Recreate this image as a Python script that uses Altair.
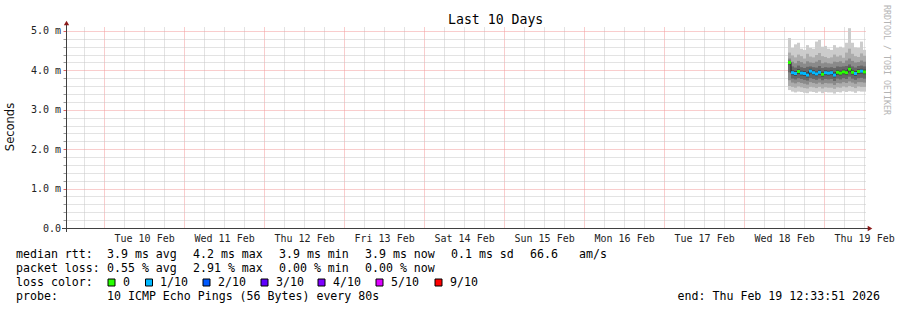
import altair as alt
import pandas as pd

# ---------------- data ----------------
title_text = "Last 10 Days"
y_title = "Seconds"
watermark = "RRDTOOL / TOBI OETIKER"
day_labels = ["Tue 10 Feb", "Wed 11 Feb", "Thu 12 Feb", "Fri 13 Feb", "Sat 14 Feb",
              "Sun 15 Feb", "Mon 16 Feb", "Tue 17 Feb", "Wed 18 Feb", "Thu 19 Feb"]
# hours since Mon 9 Feb 00:00 ; graph ends Thu Feb 19 12:33:51
x_domain = [12.5642, 252.5642]
y_domain = [0, 5.1]

times = [229.16, 230.06, 230.96, 231.86, 232.76, 233.66, 234.56, 235.46, 236.36,
         237.26, 238.16, 239.06, 239.96, 240.86, 241.76, 242.66, 243.56, 244.46,
         245.36, 246.26, 247.16, 248.06, 248.96, 249.86, 250.76, 251.66]
step_h = 0.9

median = [4.20, 3.94, 3.92, 3.97, 3.93, 3.92, 3.88, 3.98, 3.94, 3.91, 3.95, 3.90, 3.94,
          3.93, 3.94, 3.88, 3.95, 3.93, 3.96, 3.94, 4.03, 3.95, 3.92, 3.97, 3.98, 3.96]
loss = ["0", "1/10", "1/10", "0", "1/10", "1/10", "1/10", "1/10", "1/10", "1/10", "1/10",
        "0", "1/10", "1/10", "1/10", "1/10", "0", "0", "0", "0", "0", "0", "1/10", "0",
        "1/10", "0"]

# sorted ping times (ms), p1 = fastest ... p10 = slowest
p10 = [4.82, 4.57, 4.66, 4.70, 4.55, 4.52, 4.64, 4.57, 4.55, 4.73, 4.77, 4.60, 4.62,
       4.55, 4.52, 4.64, 4.57, 4.60, 4.57, 4.70, 5.07, 4.70, 4.58, 4.57, 4.73, 4.52]
p9 = [4.45, 4.38, 4.33, 4.40, 4.36, 4.30, 4.42, 4.35, 4.33, 4.39, 4.44, 4.36, 4.34,
      4.31, 4.33, 4.40, 4.35, 4.38, 4.32, 4.45, 4.55, 4.42, 4.36, 4.34, 4.43, 4.37]
p8 = [4.30, 4.22, 4.18, 4.24, 4.21, 4.17, 4.23, 4.20, 4.19, 4.22, 4.26, 4.18, 4.20,
      4.18, 4.17, 4.22, 4.21, 4.23, 4.19, 4.25, 4.30, 4.24, 4.20, 4.21, 4.25, 4.22]
p7 = [4.25, 4.10, 4.07, 4.12, 4.08, 4.06, 4.09, 4.10, 4.08, 4.07, 4.11, 4.06, 4.08,
      4.07, 4.08, 4.06, 4.10, 4.09, 4.10, 4.11, 4.15, 4.10, 4.07, 4.11, 4.12, 4.10]
p6 = [4.23, 4.00, 3.98, 4.03, 3.99, 3.98, 3.95, 4.04, 4.00, 3.97, 4.01, 3.96, 4.00,
      3.99, 4.00, 3.95, 4.01, 3.99, 4.02, 4.00, 4.09, 4.01, 3.98, 4.03, 4.04, 4.02]
p5 = [4.15, 3.88, 3.86, 3.91, 3.87, 3.86, 3.82, 3.92, 3.88, 3.85, 3.89, 3.84, 3.88,
      3.87, 3.88, 3.82, 3.89, 3.87, 3.90, 3.88, 3.97, 3.89, 3.86, 3.91, 3.92, 3.90]
p4 = [3.95, 3.79, 3.77, 3.80, 3.78, 3.76, 3.74, 3.80, 3.78, 3.76, 3.79, 3.75, 3.78,
      3.77, 3.78, 3.73, 3.79, 3.77, 3.80, 3.78, 3.84, 3.79, 3.76, 3.80, 3.81, 3.79]
p3 = [3.75, 3.69, 3.67, 3.70, 3.68, 3.66, 3.64, 3.70, 3.68, 3.66, 3.69, 3.65, 3.68,
      3.67, 3.67, 3.63, 3.68, 3.67, 3.70, 3.68, 3.72, 3.69, 3.66, 3.70, 3.70, 3.69]
p2 = [3.60, 3.58, 3.56, 3.59, 3.57, 3.55, 3.54, 3.58, 3.57, 3.55, 3.58, 3.54, 3.57,
      3.56, 3.56, 3.53, 3.57, 3.56, 3.59, 3.57, 3.60, 3.58, 3.55, 3.59, 3.58, 3.58]
p1 = [3.50, 3.46, 3.44, 3.46, 3.45, 3.43, 3.42, 3.46, 3.45, 3.43, 3.46, 3.42, 3.45,
      3.44, 3.44, 3.41, 3.45, 3.44, 3.47, 3.45, 3.47, 3.46, 3.43, 3.47, 3.46, 3.46]

loss_labels = ["0", "1/10", "2/10", "3/10", "4/10", "5/10", "9/10"]
loss_colors = ["#26ff00", "#00b8ff", "#0059ff", "#5e00ff", "#7e00ff", "#dd00ff", "#ff0000"]

rtt_label = "median rtt:"
rtt_stats = ["3.9 ms avg", "4.2 ms max", "3.9 ms min", "3.9 ms now", "0.1 ms sd", "66.6", "am/s"]
loss_label = "packet loss:"
loss_stats = ["0.55 % avg", "2.91 % max", "0.00 % min", "0.00 % now"]
color_label = "loss color:"
probe_label = "probe:"
probe_text = "10 ICMP Echo Pings (56 Bytes) every 80s"
end_text = "end: Thu Feb 19 12:33:51 2026"

# ---------------- layout ----------------
OX, OY = 66, 27          # plot origin inside the 897x310 canvas
W, H = 800, 201
MONO = "DejaVu Sans Mono"

band_names = ["b1", "b2", "b3", "b4", "b5"]
band_greys = ["#cccccc", "#acacac", "#8a8a8a", "#676767", "#454545"]
lows = [p1, p2, p3, p4, p5]
highs = [p10, p9, p8, p7, p6]

rows = []
for name, lo_s, hi_s in zip(band_names, lows, highs):
    for t, lo, hi in zip(times, lo_s, hi_s):
        rows.append({"t0": t, "t1": t + step_h, "lo": lo, "hi": hi, "band": name})
bands_df = pd.DataFrame(rows)

med_df = pd.DataFrame({"t0": times, "t1": [t + step_h for t in times],
                       "med": median, "loss": loss})

xscale = alt.Scale(domain=x_domain, nice=False, zero=False)
yscale = alt.Scale(domain=y_domain, nice=False, zero=False)

day_js = "[" + ",".join("'" + d + "'" for d in day_labels) + "]"
x_vals = list(range(18, 253, 6))
y_vals = [round(i * 0.2, 1) for i in range(26)]

MAJ = "#f39a9a"
MIN = "#c6c6c6"

xaxis = alt.Axis(
    values=x_vals, title=None, domain=False, ticks=False,
    grid=True, gridDash=[1, 1], gridWidth=1,
    gridColor={"condition": {"test": "datum.value % 24 === 0", "value": MAJ}, "value": MIN},
    labelExpr="datum.value % 24 === 12 ? " + day_js + "[floor(datum.value / 24) - 1] : ''",
    labelFont=MONO, labelFontSize=10, labelColor="#222222", labelBaseline="middle",
    labelPadding=10, labelOverlap=False, labelFlush=False, labelBound=False,
)
yaxis = alt.Axis(
    values=y_vals, title=None, domain=False,
    ticks=True, tickSize=3, tickWidth=1,
    tickColor={"condition": {"test": "abs(datum.value - round(datum.value)) < 0.001", "value": "#e06060"}, "value": "#999999"},
    grid=True, gridDash=[1, 1], gridWidth=1,
    gridColor={"condition": {"test": "abs(datum.value - round(datum.value)) < 0.001", "value": MAJ}, "value": MIN},
    labelExpr="datum.value == 0 ? '0.0' : (abs(datum.value - round(datum.value)) < 0.001 ? format(datum.value, '.1f') + ' m' : '')",
    labelFont=MONO, labelFontSize=10, labelColor="#222222", labelPadding=2.5,
    labelOverlap=False, labelBound=False, labelFlush=False,
)

bands = alt.Chart(bands_df).mark_rect(strokeWidth=0).encode(
    x=alt.X("t0:Q", scale=xscale, axis=xaxis),
    x2="t1:Q",
    y=alt.Y("lo:Q", scale=yscale, axis=yaxis),
    y2="hi:Q",
    color=alt.Color("band:N", scale=alt.Scale(domain=band_names, range=band_greys), legend=None),
)

med_line = alt.Chart(med_df).mark_line(interpolate="step-after", color="#202020", strokeWidth=1).encode(
    x=alt.X("t0:Q", scale=xscale, axis=xaxis),
    y=alt.Y("med:Q", scale=yscale, axis=yaxis),
)

med_rules = alt.Chart(med_df).mark_rule(strokeWidth=3, strokeCap="butt").encode(
    x=alt.X("t0:Q", scale=xscale, axis=xaxis),
    x2="t1:Q",
    y=alt.Y("med:Q", scale=yscale, axis=yaxis),
    color=alt.Color("loss:N", scale=alt.Scale(domain=loss_labels, range=loss_colors), legend=None),
)

one = pd.DataFrame({"a": [0]})


def txt(s, x, y, size=11.6, font=MONO, color="#000000", align="left", angle=0, baseline="middle"):
    return alt.Chart(one).mark_text(
        text=s, font=font, fontSize=size, color=color, align=align,
        angle=angle, baseline=baseline,
    ).encode(x=alt.value(x - OX), y=alt.value(y - OY))


def rule(x1, y1, x2, y2, color="#404040"):
    return alt.Chart(one).mark_rule(color=color, strokeWidth=1).encode(
        x=alt.value(x1 - OX), x2=alt.value(x2 - OX), y=alt.value(y1 - OY), y2=alt.value(y2 - OY))


def arrow(x, y, shape):
    return alt.Chart(one).mark_point(shape=shape, filled=True, color="#8b1a1a", size=28, opacity=1).encode(
        x=alt.value(x - OX), y=alt.value(y - OY))


def box(x, y, c):
    return alt.Chart(one).mark_rect(fill=c, stroke="#000000", strokeWidth=1).encode(
        x=alt.value(x - OX), x2=alt.value(x + 7 - OX), y=alt.value(y - OY), y2=alt.value(y + 7 - OY))


deco = [
    rule(66.5, 232, 66.5, 24),
    rule(62, 228.5, 869, 228.5),
    arrow(66.5, 23, "triangle-up"),
    arrow(870, 228.5, "triangle-right"),
    txt(title_text, 448, 20, size=13.2),
    txt(y_title, 11, 127, size=11.5, font="DejaVu Sans", color="#111111", align="center", angle=270),
    txt(watermark, 886, 5, size=8.3, color="#b4b4b4", angle=90),
]

R1, R2, R3, R4 = 254.5, 268.5, 282.5, 296.5
legend = [txt(rtt_label, 16, R1)]
for s, x in zip(rtt_stats, [107, 193, 279, 365, 451, 530, 579]):
    legend.append(txt(s, x, R1))
legend.append(txt(loss_label, 16, R2))
for s, x in zip(loss_stats, [107, 193, 279, 365]):
    legend.append(txt(s, x, R2))
legend.append(txt(color_label, 16, R3))
for lab, col, bx, lx in zip(loss_labels, loss_colors,
                            [108, 145.5, 203, 261, 318, 376, 435],
                            [123, 160, 218, 276, 333, 391, 450]):
    legend.append(box(bx, R3 - 3.5, col))
    legend.append(txt(lab, lx, R3))
legend.append(txt(probe_label, 16, R4))
legend.append(txt(probe_text, 107, R4))
legend.append(txt(end_text, 880, R4, align="right"))

chart = alt.layer(bands, med_line, med_rules, *deco, *legend).resolve_scale(
    color="independent"
).properties(
    width=W, height=H,
    padding={"left": OX, "top": OY, "right": 897 - OX - W, "bottom": 310 - OY - H},
    autosize=alt.AutoSizeParams(type="none"),
    background="#ffffff",
).configure_view(stroke=None)

chart.save("out.html", embed_options={"renderer": "svg", "actions": False})
